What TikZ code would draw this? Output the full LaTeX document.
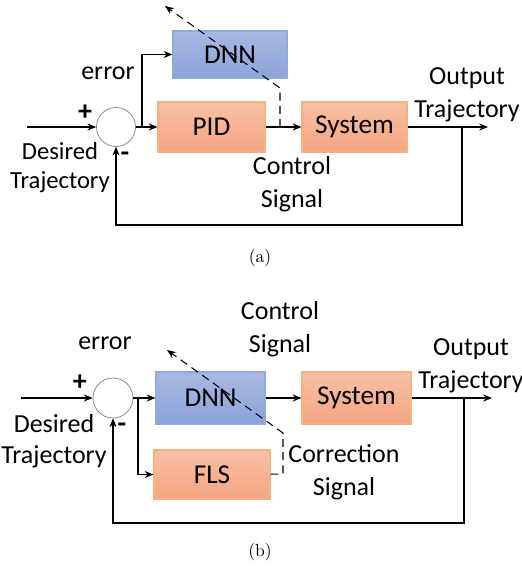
\documentclass[tikz,border=0pt]{standalone}
\usepackage{fontspec}
\setsansfont{Carlito}
\usetikzlibrary{arrows.meta}
\definecolor{orangetop}{HTML}{F8C1A5}
\definecolor{orangebot}{HTML}{F4A480}
\definecolor{orangeline}{HTML}{F4B183}
\definecolor{bluetop}{HTML}{A9B8E2}
\definecolor{bluebot}{HTML}{8CA3D9}
\definecolor{blueline}{HTML}{8FAADC}

\begin{document}
\begin{tikzpicture}[x=0.02cm, y=-0.02cm,
    font=\sffamily\fontsize{14.8}{17.5}\selectfont,
    line width=0.6pt, >={Stealth[length=5pt, width=4pt]},
    sumnode/.style={circle, draw=gray, line width=0.4pt, minimum size=0.78cm, inner sep=0pt},
    orangebox/.style={draw=orangeline, top color=orangetop, bottom color=orangebot, minimum width=2.14cm, minimum height=1cm, font=\sffamily\fontsize{15.5}{18}\selectfont},
    bluebox/.style={draw=blueline, top color=bluetop, bottom color=bluebot, minimum width=2.2cm, minimum height=1cm, font=\sffamily\fontsize{15.5}{18}\selectfont},
    dasharrow/.style={dash pattern=on 4.5pt off 3pt, ->},
    sign/.style={inner sep=0pt, font=\sffamily\bfseries\fontsize{16}{18}\selectfont},
    lbl/.style={align=center, inner sep=0pt}]
 	\useasboundingbox (0,0) rectangle (521,568);

 	% (a) PID with DNN tuning
 	\node[sumnode] (s1) at (116,127) {};
 	\node[orangebox] (pid) at (211.5,127) {PID};
 	\node[bluebox, minimum width=2.28cm, minimum height=0.94cm] (dnn1) at (230,54.5) {DNN};
 	\node[orangebox, minimum width=2.1cm] (sys1) at (354.5,127) {System};
 	\coordinate (in1) at (27,127);
 	\coordinate (out1) at (488,127);
 	\coordinate (br1) at (142,127);
 	\coordinate (tap1) at (462,127);
 	\coordinate (cs1) at (280,127);

 	\draw[->] (in1) -- (s1);
 	\draw[->] (s1) -- (pid);
 	\draw[->] (br1) |- (dnn1);
 	\draw[->] (pid) -- (sys1);
 	\draw[->] (sys1) -- (out1);
 	\draw[->] (tap1) -- (462,225) -| (s1);
 	\draw[dasharrow] (cs1) -- (280,88) -- (165,6);

 	\node[sign] (plus1) at (85,113) {+};
 	\node[sign] (minus1) at (125,157) {-};
 	\node[lbl] (err1) at (108,73) {error};
 	\node[lbl, font=\sffamily\fontsize{14}{16.5}\selectfont] (des1) at (60,168) {Desired\\Trajectory};
 	\node[lbl] (ctl1) at (292,184) {Control\\[1pt]Signal};
 	\node[lbl] (outl1) at (467,95) {Output\\[1pt]Trajectory};
 	\node[font=\rmfamily\normalsize] (capa) at (260,258) {(a)};

 	% (b) DNN with FLS correction
 	\node[sumnode, minimum size=0.8cm] (s2) at (113,398) {};
 	\node[bluebox, minimum width=2.18cm, minimum height=1.04cm] (dnn2) at (210.5,398) {DNN};
 	\node[orangebox, minimum width=2.18cm, minimum height=1.04cm] (sys2) at (356.5,398) {System};
 	\node[orangebox, minimum width=2.32cm, minimum height=0.98cm] (fls) at (212,474.5) {FLS};
 	\coordinate (in2) at (21,398);
 	\coordinate (out2) at (492,398);
 	\coordinate (br2) at (138,398);
 	\coordinate (tap2) at (464,398);

 	\draw[->] (in2) -- (s2);
 	\draw[->] (s2) -- (dnn2);
 	\draw[->] (br2) |- (fls);
 	\draw[->] (dnn2) -- (sys2);
 	\draw[->] (sys2) -- (out2);
 	\draw[->] (tap2) -- (464,523) -| (s2);
 	\draw[dasharrow] (fls) -- (283,474) -- (283,433) -- (167,350);

 	\node[sign] (plus2) at (80,383) {+};
 	\node[sign] (minus2) at (122,428) {-};
 	\node[lbl] (err2) at (105,343) {error};
 	\node[lbl] (des2) at (54,441) {Desired\\Trajectory};
 	\node[lbl] (ctl2) at (280,329) {Control\\[1pt]Signal};
 	\node[lbl] (cor2) at (344,472) {Correction\\[1pt]Signal};
 	\node[lbl] (outl2) at (471,366) {Output\\[1pt]Trajectory};
 	\node[font=\rmfamily\normalsize] (capb) at (260,552) {(b)};
\end{tikzpicture}
\end{document}
